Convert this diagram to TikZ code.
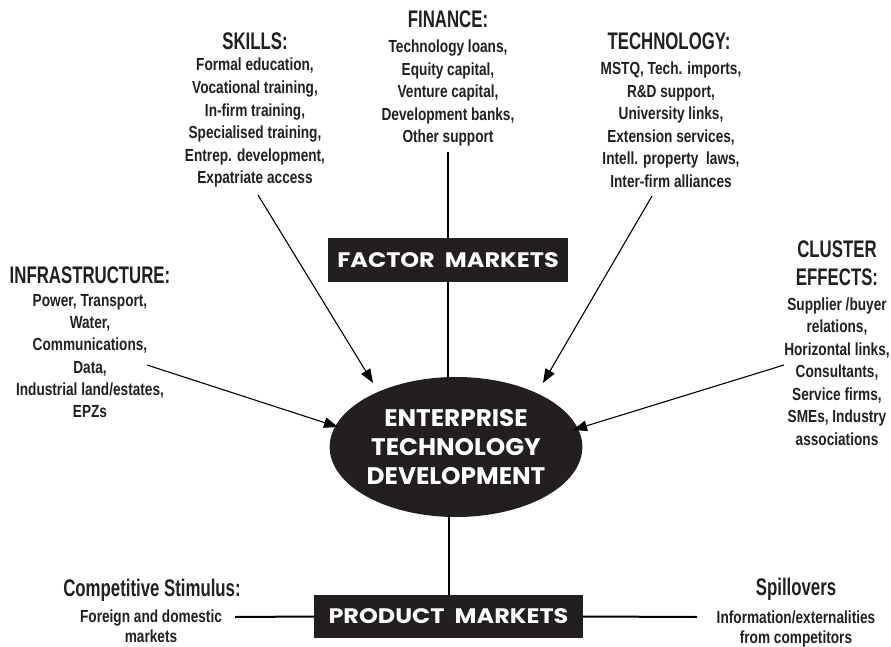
\documentclass[tikz,border=0pt]{standalone}
\usepackage{fontspec}
\usetikzlibrary{shapes.geometric,arrows.meta}

% condensed sans for the labels, geometric sans for the black panels
\newfontfamily\condhead{Liberation Sans}[FakeStretch=0.70]
\newfontfamily\condbody{Liberation Sans}[FakeStretch=0.78]
\newfontfamily\geofont{Poppins}[FakeStretch=1.03]
\newfontfamily\geowide{Poppins}[FakeStretch=1.14]
\definecolor{ink}{HTML}{231F20}

% multi-line labels are placed by the baseline of their last line
\tikzset{
  heading/.style={font=\condhead\bfseries\fontsize{24}{28}\selectfont,
    text=ink, inner sep=0pt, anchor=base, align=center},
  itemlist/.style={font=\condbody\bfseries\fontsize{17.5}{#1}\selectfont,
    text=ink, inner sep=0pt, anchor=base, align=center},
  itemlist/.default=22.5,
  blackbox/.style={fill=ink, text=white, inner sep=0pt,
    font=\geowide\bfseries\fontsize{21}{25}\selectfont},
  core/.style={ellipse, fill=ink, text=white, inner sep=0pt, align=center,
    font=\geofont\bfseries\fontsize{24}{29}\selectfont},
  stem/.style={draw=black, line width=2pt},
  feed/.style={draw=black, line width=1.1pt,
    -{Triangle[length=14pt,width=10.5pt]}},
}

\begin{document}
\begin{tikzpicture}[x=1pt,y=-1pt]
  \useasboundingbox (0,0) rectangle (891,647);

  % central element and the two market panels
  \node[core, minimum width=230pt, minimum height=140pt] (etd) at (456,447)
    {ENTERPRISE\\TECHNOLOGY\\DEVELOPMENT};
  \node[blackbox, minimum width=240pt, minimum height=44pt] (fm) at (448,260)
    {FACTOR\ \ MARKETS};
  \node[blackbox, minimum width=269pt, minimum height=43pt] (pm) at (448.5,616.5)
    {PRODUCT\ \ MARKETS};

  % factor-market inputs
  \node[heading] (skills-h) at (255,50) {SKILLS:};
  \node[itemlist=22.65] (skills) at (255,184)
    {Formal education,\\Vocational training,\\In-firm training,\\
     Specialised training,\\Entrep. development,\\Expatriate access};

  \node[heading] (fin-h) at (448,28) {FINANCE:};
  \node[itemlist=22.4] (fin) at (448,142.6)
    {Technology loans,\\Equity capital,\\Venture capital,\\
     Development banks,\\Other support};

  \node[heading] (tech-h) at (669,49.5) {TECHNOLOGY:};
  \node[itemlist] (tech) at (671,187.5)
    {MSTQ, Tech. imports,\\R\&D support,\\University links,\\
     Extension services,\\Intell. property\ \ laws,\\Inter-firm alliances};

  \node[heading] (infra-h) at (90,283.3) {INFRASTRUCTURE:};
  \node[itemlist=22.1] (infra) at (90,417.2)
    {Power, Transport,\\Water,\\Communications,\\Data,\\
     Industrial land/estates,\\EPZs};

  \node[heading] (clus-h) at (837,285.3) {CLUSTER\\EFFECTS:};
  \node[itemlist] (clus) at (837,445)
    {Supplier /buyer\\relations,\\Horizontal links,\\Consultants,\\
     Service firms,\\SMEs, Industry\\associations};

  % product-market influences
  \node[heading] (comp-h) at (152,596) {Competitive Stimulus:};
  \node[itemlist=20] (comp) at (151,642.7) {Foreign and domestic\\markets};

  \node[heading] (spill-h) at (796,595) {Spillovers};
  \node[itemlist=20] (spill) at (796,643)
    {Information/externalities\\from competitors};

  % connector end points
  \coordinate (fin-end)    at (448,152);
  \coordinate (comp-end)   at (235,617);
  \coordinate (spill-end)  at (697,617);
  \coordinate (skills-out) at (258,195);
  \coordinate (skills-in)  at (373,383);
  \coordinate (tech-out)   at (652,196);
  \coordinate (tech-in)    at (543,383);
  \coordinate (infra-out)  at (147,365);
  \coordinate (infra-in)   at (338,427);
  \coordinate (clus-out)   at (784,365);
  \coordinate (clus-in)    at (573,430);

  % vertical spine
  \draw[stem] (fin-end) -- (fm.north);
  \draw[stem] (fm.south) -- ([yshift=-2pt]fm.south |- etd.north);
  \draw[stem] ([yshift=2pt]pm.north |- etd.south) -- (pm.north);
  % bottom links
  \draw[stem] (comp-end) -- (pm.west);
  \draw[stem] (pm.east) -- (spill-end);

  % arrows into the core
  \draw[feed] (skills-out) -- (skills-in);
  \draw[feed] (tech-out) -- (tech-in);
  \draw[feed] (infra-out) -- (infra-in);
  \draw[feed] (clus-out) -- (clus-in);
\end{tikzpicture}
\end{document}
